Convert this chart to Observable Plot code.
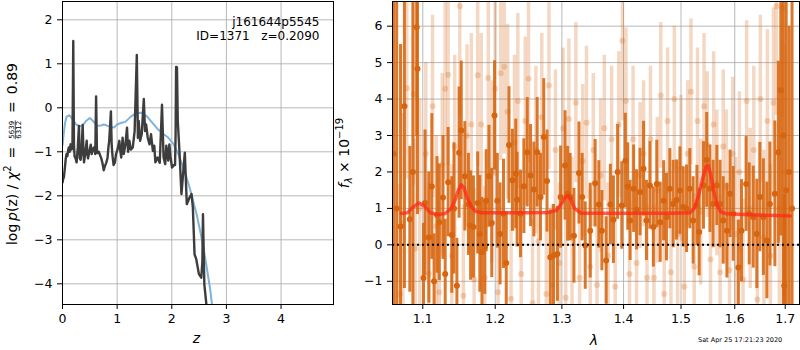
<!DOCTYPE html>
<html><head><meta charset="utf-8">
<script src="https://cdn.jsdelivr.net/npm/d3@7"></script>
<script src="https://cdn.jsdelivr.net/npm/@observablehq/plot@0.6"></script>
<style>
body{margin:0;background:#fff;font-family:"DejaVu Sans",sans-serif;}
#wrap{position:relative;width:800px;height:350px;overflow:hidden;background:#fff;}
#left,#right{position:absolute;top:0;}
#left{left:0;} #right{left:340px;}
</style></head>
<body><div id="wrap"><div id="left"></div><div id="right"></div></div>
<script>
// ---------- Left panel: redshift PDF ----------
const pzZ = [0.000,0.012,0.025,0.045,0.060,0.074,0.090,0.105,0.117,0.130,0.148,0.165,0.182,0.197,0.210,0.221,0.240,0.258,0.280,0.301,0.316,0.332,0.350,0.369,0.385,0.394,0.420,0.443,0.455,0.467,0.490,0.517,0.535,0.554,0.578,0.600,0.615,0.630,0.640,0.665,0.689,0.710,0.732,0.755,0.775,0.800,0.824,0.840,0.855,0.886,0.900,0.916,0.935,0.959,0.980,1.009,1.040,1.058,1.075,1.100,1.120,1.150,1.181,1.200,1.224,1.250,1.286,1.320,1.360,1.380,1.395,1.420,1.450,1.488,1.510,1.531,1.560,1.593,1.620,1.654,1.680,1.700,1.740,1.780,1.821,1.850,1.880,1.900,1.935,1.956,1.975,2.005,2.040,2.060,2.070,2.079,2.095,2.110,2.140,2.177,2.239,2.275,2.325,2.362,2.386,2.417,2.448,2.497,2.540,2.560,2.571,2.596,2.645];
const pzLog = [-1.70,-1.62,-1.58,-1.35,-1.15,-1.05,-1.10,-0.95,-0.90,-1.00,-0.83,-0.95,-0.92,1.52,-0.85,-1.10,-1.15,-1.24,-0.90,-0.41,-1.15,-1.18,-0.95,-0.39,-1.05,-1.24,-1.00,-0.75,-1.05,-1.15,-1.00,-0.84,-1.05,-0.93,-0.90,-1.05,0.26,-0.95,-1.03,-1.00,-1.08,-1.15,-1.26,-1.42,-1.33,-1.25,-1.14,-0.90,-0.75,-0.08,-0.85,-1.10,-1.30,-1.24,-1.05,-0.94,-0.75,-0.98,-1.13,-0.68,-1.05,-0.85,-0.45,-1.00,-0.75,-0.95,-0.90,-0.53,1.20,-0.68,-0.30,-0.75,-0.60,0.20,-0.53,-0.38,-0.68,-0.83,-0.60,-0.98,-0.86,-1.24,-1.13,-1.25,0.07,-1.13,-1.28,-0.86,-1.20,-0.83,-1.10,-1.36,-1.30,-1.30,-0.60,0.93,0.92,-0.30,-0.98,-1.96,-1.02,-2.19,-2.04,-1.96,-2.27,-3.33,-3.44,-3.78,-3.86,-3.50,-2.42,-4.01,-4.61];
const tplZ = [0.000,0.020,0.045,0.075,0.130,0.180,0.250,0.320,0.370,0.430,0.500,0.560,0.630,0.700,0.760,0.830,0.940,1.000,1.080,1.150,1.250,1.350,1.440,1.550,1.650,1.740,1.850,1.930,2.030,2.120,2.200,2.270,2.330,2.390,2.460,2.520,2.580,2.640,2.700,2.760];
const tplLog = [-0.85,-0.62,-0.35,-0.20,-0.17,-0.25,-0.38,-0.42,-0.40,-0.30,-0.23,-0.30,-0.41,-0.40,-0.38,-0.41,-0.45,-0.38,-0.34,-0.32,-0.20,-0.12,-0.11,-0.20,-0.35,-0.48,-0.60,-0.67,-0.82,-1.05,-1.32,-1.58,-1.83,-2.11,-2.45,-2.80,-3.18,-3.63,-4.10,-4.70];
const zTicks = [0,1,2,3,4];
const lpTicks = [-4,-3,-2,-1,0,1,2];
const annotLines = ["j161644p5545", "ID=1371\u00a0\u00a0\u00a0z=0.2090"];

// ---------- Right panel: spectrum ----------
const darkLam = [1.062,1.066,1.071,1.076,1.083,1.087,1.092,1.093,1.101,1.103,1.108,1.112,1.115,1.119,1.122,1.127,1.130,1.134,1.139,1.142,1.146,1.149,1.152,1.157,1.162,1.165,1.169,1.175,1.178,1.181,1.185,1.187,1.191,1.195,1.199,1.203,1.207,1.212,1.216,1.220,1.225,1.230,1.232,1.237,1.242,1.247,1.252,1.257,1.262,1.267,1.272,1.277,1.282,1.287,1.293,1.298,1.305,1.309,1.313,1.319,1.327,1.332,1.337,1.345,1.353,1.359,1.364,1.371,1.378,1.383,1.390,1.397,1.403,1.407,1.411,1.417,1.422,1.428,1.434,1.439,1.445,1.451,1.457,1.463,1.469,1.474,1.480,1.486,1.492,1.498,1.504,1.510,1.516,1.522,1.529,1.533,1.541,1.547,1.553,1.559,1.566,1.572,1.578,1.585,1.591,1.597,1.607,1.613,1.622,1.628,1.636,1.643,1.649,1.656,1.663,1.669,1.679,1.686,1.691,1.696,1.698,1.702,1.708,1.714];
const darkFlux = [2.5,1.0,0.5,3.80,0.70,2.0,5.97,4.83,-0.91,1.15,0.2,1.6,-1.0,0.82,0.62,1.3,-0.80,1.72,0.27,1.0,-1.12,2.53,3.14,1.88,1.11,0.53,0.49,1.15,0.3,-0.20,-0.06,1.21,1.88,0.6,3.55,1.21,0.3,0.85,-0.5,2.74,1.77,1.95,1.24,0.85,1.61,2.54,1.90,1.52,2.54,1.31,2.96,1.75,-0.34,-0.29,-0.25,1.31,2.18,1.40,1.31,0.25,1.97,1.31,-0.02,0.39,1.69,1.11,0.39,-0.43,1.11,0.69,2.0,1.08,2.31,1.60,0.67,1.54,0.96,1.45,2.09,0.67,1.63,0.49,1.67,0.62,1.21,0.76,1.54,1.12,1.23,1.49,1.04,0.99,1.54,0.67,1.08,0.35,1.63,2.33,1.54,1.12,1.63,1.12,0.67,0.39,1.40,0.85,-0.62,0.39,1.67,0.85,0.76,0.30,1.31,0.76,0.12,1.12,1.40,2.54,4.24,3.0,-1.12,1.5,2.0,1.0];
const darkErr = [6,6,5,5,2.0,5,3,4,1.5,2.0,1.8,2.0,1.3,1.6,1.6,1.7,1.5,1.5,1.6,1.8,1.3,1.8,1.9,1.5,1.4,1.5,1.4,1.4,1.6,1.5,1.3,1.4,1.4,1.5,1.5,1.3,1.4,1.5,1.4,1.6,1.4,1.5,1.3,1.2,1.3,1.5,1.4,1.3,1.5,1.2,1.6,1.4,1.3,1.4,1.3,1.4,1.5,1.3,1.2,1.3,1.4,1.2,1.2,1.3,1.2,1.2,1.1,1.2,1.1,1.2,1.3,1.2,1.3,1.2,1.1,1.2,1.1,1.2,1.3,1.1,1.2,1.1,1.2,1.1,1.1,1.2,1.1,1.2,1.1,1.2,1.1,1.2,1.1,1.2,1.1,1.2,1.2,1.3,1.2,1.2,1.1,1.2,1.2,1.3,1.2,1.3,1.3,1.4,1.3,1.4,1.4,1.5,1.5,1.6,1.6,1.7,2.0,2.5,4,6,2.5,6,4,6];
const lightLam = [1.070,1.074,1.079,1.088,1.090,1.096,1.104,1.108,1.113,1.118,1.122,1.126,1.130,1.134,1.139,1.143,1.150,1.155,1.160,1.166,1.170,1.175,1.180,1.185,1.190,1.195,1.200,1.204,1.208,1.213,1.218,1.223,1.228,1.233,1.238,1.244,1.249,1.255,1.260,1.264,1.269,1.276,1.280,1.285,1.290,1.296,1.302,1.306,1.311,1.316,1.322,1.328,1.333,1.339,1.345,1.350,1.356,1.362,1.368,1.374,1.380,1.386,1.392,1.398,1.404,1.410,1.416,1.422,1.428,1.434,1.440,1.446,1.452,1.458,1.464,1.470,1.476,1.482,1.488,1.494,1.500,1.506,1.512,1.518,1.524,1.530,1.536,1.542,1.548,1.554,1.560,1.566,1.572,1.578,1.584,1.590,1.596,1.602,1.609,1.616,1.623,1.630,1.637,1.644,1.650,1.657,1.664,1.670,1.676,1.682,1.688,1.694,1.700];
const lightFlux = [-1.35,0.6,4.3,4.14,-0.1,1.0,2.5,-0.8,3.80,0.5,-1.3,2.2,4.28,4.67,-0.3,2.7,6.55,-1.4,2.99,3.3,-0.95,4.65,3.3,-0.9,4.58,2.0,4.28,-1.3,4.71,4.89,3.65,-1.48,2.8,3.95,-0.8,3.4,4.56,-1.6,2.6,0.1,3.5,-1.35,4.37,-1.1,2.6,-0.5,3.2,-1.45,3.45,0.2,3.9,-0.9,2.3,3.35,-0.6,2.6,-1.1,1.9,3.2,-0.3,2.9,-1.15,3.3,5.6,3.95,-0.8,2.9,-0.5,1.9,2.5,-0.9,2.9,-0.9,1.5,4.1,-1.35,3.4,-0.75,4.0,0.3,2.1,-1.15,2.5,4.2,-0.6,3.4,0.9,3.8,2.75,-0.4,3.3,1.7,-0.75,2.7,1.6,-0.7,2.5,0.3,2.0,-0.95,3.95,1.0,2.6,-1.5,4.0,0.2,3.4,-0.3,3.9,6.55,1.0,6.5,2.0];
const lightErr = [3,3,2.5,2.5,3,3,2.5,2.5,2.5,2.5,2.5,2.5,2.5,2.5,2.5,2.5,3,2.5,2.5,2.5,2.5,2.5,2.5,2.5,2.5,2.5,2.4,2.4,2.4,2.4,2.4,2.4,2.4,2.4,2.4,2.3,2.3,2.3,2.3,2.3,2.3,2.3,2.3,2.2,2.2,2.2,2.2,2.2,2.2,2.2,2.2,2.1,2.1,2.1,2.1,2.1,2.1,2.1,2.0,2.0,2.0,2.0,2.0,2.2,2.0,2.0,2.0,2.0,2.0,2.0,2.0,2.0,2.0,2.0,2.0,2.0,2.0,2.0,2.0,2.0,2.0,2.0,2.0,2.0,2.0,2.0,2.0,2.0,2.0,2.0,2.0,2.0,2.1,2.1,2.1,2.1,2.1,2.1,2.2,2.2,2.2,2.2,2.3,2.3,2.3,2.4,2.5,2.5,2.6,3,3,3,3.5];
const modelLam = [1.072,1.080,1.088,1.095,1.103,1.110,1.120,1.130,1.138,1.144,1.148,1.152,1.156,1.160,1.166,1.172,1.180,1.200,1.240,1.280,1.292,1.300,1.306,1.310,1.314,1.320,1.330,1.360,1.420,1.480,1.516,1.524,1.532,1.540,1.546,1.550,1.554,1.560,1.566,1.574,1.585,1.620,1.660,1.700,1.710];
const modelFlux = [0.86,0.88,1.05,1.15,1.05,0.88,0.83,0.86,1.0,1.25,1.5,1.65,1.55,1.3,1.05,0.92,0.88,0.88,0.88,0.89,0.95,1.15,1.32,1.35,1.25,1.0,0.87,0.87,0.87,0.87,0.88,1.0,1.35,1.85,2.15,2.18,1.95,1.5,1.1,0.9,0.85,0.83,0.81,0.80,0.79];
const lamTicks = [1.1,1.2,1.3,1.4,1.5,1.6,1.7];
const fTicks = [-1,0,1,2,3,4,5,6];

const ORANGE = "#d7650f";
const GRID = {stroke:"#b0b0b0", strokeOpacity:1, strokeWidth:0.9};
const FONT = {fontFamily:"DejaVu Sans", fontSize:"12.5px", color:"black", background:"white", overflow:"visible"};

const pz = pzZ.map((z,i)=>({z, v:pzLog[i]}));
const tpl = tplZ.map((z,i)=>({z, v:tplLog[i]}));

const left = Plot.plot({
  width:340, height:350, marginLeft:62, marginRight:7, marginTop:1, marginBottom:46,
  style: FONT,
  x:{domain:[0,4.96]}, y:{domain:[-4.47,2.416]},
  marks:[
    Plot.gridX({ticks:zTicks, ...GRID}),
    Plot.gridY({ticks:lpTicks, ...GRID}),
    Plot.line(tpl, {x:"z", y:"v", stroke:"#80b3d9", strokeWidth:2, clip:true}),
    Plot.line(pz, {x:"z", y:"v", stroke:"#3d3d3d", strokeWidth:2.4, clip:true}),
    Plot.axisX({ticks:zTicks, tickFormat:d3.format("d"), tickSize:5, tickPadding:5, label:null}),
    Plot.axisY({ticks:lpTicks, tickFormat:d3.format("d"), tickSize:5, tickPadding:5, label:null}),
    Plot.frame({stroke:"black", strokeWidth:1}),
    Plot.text([annotLines[0]], {frameAnchor:"top-right", dx:-14, dy:24, lineAnchor:"bottom", fontSize:12, text:d=>d}),
    Plot.text([annotLines[1]], {frameAnchor:"top-right", dx:-14, dy:38, lineAnchor:"bottom", fontSize:12, text:d=>d})
  ]
});
document.getElementById("left").appendChild(left);

const dark = darkLam.map((l,i)=>({l, f:darkFlux[i], e:darkErr[i]}));
const light = lightLam.map((l,i)=>({l, f:lightFlux[i], e:lightErr[i]}));
const model = modelLam.map((l,i)=>({l, f:modelFlux[i]}));

const right = Plot.plot({
  width:460, height:350, marginLeft:52, marginRight:1, marginTop:1, marginBottom:46,
  style: FONT,
  x:{type:"log", domain:[1.0607,1.7294]}, y:{domain:[-1.637,6.677]},
  marks:[
    Plot.gridX({ticks:lamTicks, ...GRID}),
    Plot.gridY({ticks:fTicks, ...GRID}),
    Plot.ruleX(light, {x:"l", y1:d=>d.f-d.e, y2:d=>d.f+d.e, stroke:ORANGE, strokeOpacity:0.25, strokeWidth:3.5, clip:true}),
    Plot.dot(light, {x:"l", y:"f", r:3, fill:ORANGE, fillOpacity:0.25, stroke:"none", clip:true}),
    Plot.ruleX(dark, {x:"l", y1:d=>d.f-d.e, y2:d=>d.f+d.e, stroke:ORANGE, strokeOpacity:0.88, strokeWidth:3, clip:true}),
    Plot.dot(dark, {x:"l", y:"f", r:3, fill:ORANGE, stroke:"none", clip:true}),
    Plot.ruleY([0], {stroke:"black", strokeWidth:2, strokeDasharray:"2,3"}),
    Plot.line(model, {x:"l", y:"f", stroke:"#ff2a1a", strokeOpacity:0.75, strokeWidth:3.5, clip:true}),
    Plot.axisX({ticks:lamTicks, tickFormat:d3.format(".1f"), tickSize:5, tickPadding:5, label:null}),
    Plot.axisY({ticks:fTicks, tickFormat:d3.format("d"), tickSize:5, tickPadding:5, label:null}),
    Plot.frame({stroke:"black", strokeWidth:1})
  ]
});
document.getElementById("right").appendChild(right);

// ---------- Labels overlay ----------
const LBL = 14;
const ov = d3.select("#wrap").append("svg")
  .attr("width",800).attr("height",350)
  .style("position","absolute").style("left","0px").style("top","0px")
  .attr("font-family","DejaVu Sans").attr("font-size",LBL).attr("fill","black");

// left y label
const gL = ov.append("g").attr("transform","translate(17,154) rotate(-90)");
const t1 = gL.append("text");
t1.append("tspan").text("log\u2009");
t1.append("tspan").attr("font-style","italic").text("p");
t1.append("tspan").text("(z) / ");
t1.append("tspan").attr("font-style","italic").text("\u03c7");
t1.append("tspan").attr("font-size",10).attr("dy",-6).text("2");
t1.append("tspan").attr("dy",6).text("\u2002=\u2002");
const num = gL.append("text").attr("font-size",7).attr("text-anchor","middle").text("5639");
const den = gL.append("text").attr("font-size",7).attr("text-anchor","middle").text("6312");
const t3 = gL.append("text").text("\u2002=\u20020.89");
const w1 = t1.node().getComputedTextLength();
const fw = Math.max(num.node().getComputedTextLength(), den.node().getComputedTextLength()) + 2;
const w3 = t3.node().getComputedTextLength();
const x0 = -(w1+fw+w3)/2;
t1.attr("x", x0);
num.attr("x", x0+w1+fw/2).attr("y",-2.8);
den.attr("x", x0+w1+fw/2).attr("y",4.4);
gL.append("line").attr("x1",x0+w1+0.5).attr("x2",x0+w1+fw-0.5).attr("y1",-1.7).attr("y2",-1.7).attr("stroke","black").attr("stroke-width",0.7);
t3.attr("x", x0+w1+fw);

// right y label
const gR = ov.append("g").attr("transform","translate(349,153) rotate(-90)");
const t4 = gR.append("text").attr("text-anchor","middle");
t4.append("tspan").attr("font-style","italic").text("f");
t4.append("tspan").attr("font-style","italic").attr("font-size",10).attr("dy",3).text("\u03bb");
t4.append("tspan").attr("dy",-3).text(" \u00d7 10");
t4.append("tspan").attr("font-size",10).attr("dy",-6).text("\u221219");

// x labels
ov.append("text").attr("x",196.5).attr("y",343).attr("text-anchor","middle").attr("font-style","italic").text("z");
ov.append("text").attr("x",594).attr("y",345).attr("text-anchor","middle").attr("font-style","italic").text("\u03bb");
// timestamp
ov.append("text").attr("x",698).attr("y",342).attr("font-size",6.5).text("Sat Apr 25 17:21:23 2020");
</script>
</body></html>
